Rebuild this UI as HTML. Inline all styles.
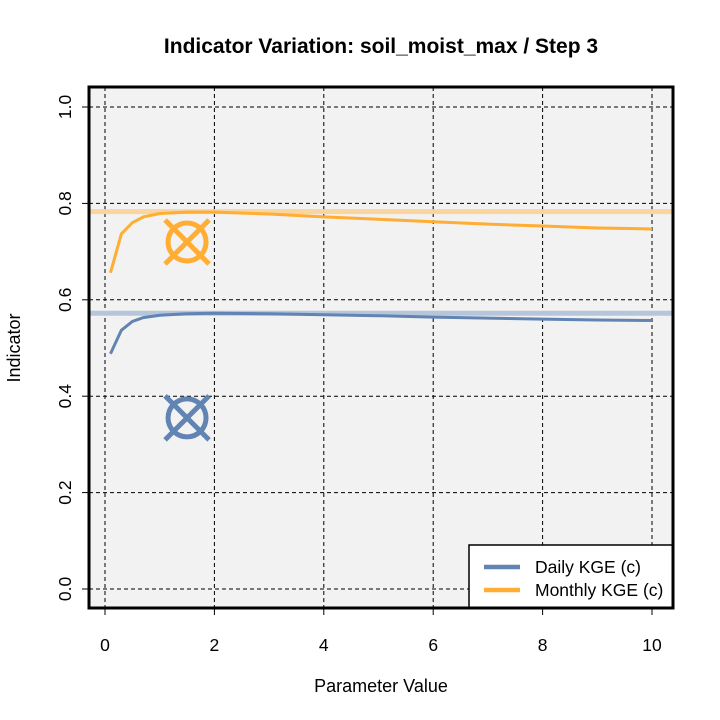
<!DOCTYPE html>
<html><head><meta charset="utf-8"><style>
body{margin:0;background:#fff;}
svg{display:block;font-family:"Liberation Sans",Arial,sans-serif;}
</style></head><body>
<svg id="c" width="720" height="720" viewBox="0 0 720 720"></svg>
<script>
const xs=[0.1,0.3,0.5,0.7,1,1.5,2,3,4,5,6,7,8,9,10];
const monthly=[0.656,0.737,0.760,0.772,0.779,0.782,0.782,0.778,0.772,0.767,0.762,0.757,0.753,0.749,0.747];
const daily=[0.488,0.537,0.555,0.563,0.568,0.571,0.572,0.571,0.569,0.567,0.564,0.562,0.560,0.558,0.557];
const refMonthly=0.783, refDaily=0.572;
const markerX=1.5, markerMonthly=0.72, markerDaily=0.355;
const xTicks=[0,2,4,6,8,10];
const yTicks=[0.0,0.2,0.4,0.6,0.8,1.0];
const NS="http://www.w3.org/2000/svg";
const svg=document.getElementById('c');
const X=v=>105+v*54.7, Y=v=>589-v*482;
function el(t,a,p){const e=document.createElementNS(NS,t);for(const k in a)e.setAttribute(k,a[k]);(p||svg).appendChild(e);return e;}
const BLUE="#6184b3", ORANGE="#ffad33";
let e=el('rect',{x:89,y:87,width:584,height:521,fill:'#f2f2f2'});

xTicks.forEach(t=>{e=el('line',{x1:X(t),x2:X(t),y1:87,y2:608,stroke:'#000','stroke-dasharray':'4,3','stroke-width':1});

e=el('line',{x1:X(t),x2:X(t),y1:608,y2:615,stroke:'#000'});

e=el('text',{x:X(t),y:651,'text-anchor':'middle','font-size':17.5});e.textContent=t;
});
yTicks.forEach(t=>{e=el('line',{x1:89,x2:673,y1:Y(t),y2:Y(t),stroke:'#000','stroke-dasharray':'4,3','stroke-width':1});

e=el('line',{x1:82,x2:89,y1:Y(t),y2:Y(t),stroke:'#000'});

e=el('text',{x:0,y:0,'text-anchor':'middle','font-size':17.5,transform:`translate(71,${Y(t)}) rotate(-90)`});e.textContent=t.toFixed(1);
});
e=el('line',{x1:89,x2:673,y1:Y(refMonthly),y2:Y(refMonthly),stroke:'#fad59e','stroke-width':5});

e=el('line',{x1:89,x2:673,y1:Y(refDaily),y2:Y(refDaily),stroke:'#b5c6da','stroke-width':5});

e=el('polyline',{points:xs.map((x,i)=>X(x)+','+Y(monthly[i])).join(' '),fill:'none',stroke:ORANGE,'stroke-width':3});

e=el('polyline',{points:xs.map((x,i)=>X(x)+','+Y(daily[i])).join(' '),fill:'none',stroke:BLUE,'stroke-width':3});

function marker(v,c,name){const g=el('g',{stroke:c,'stroke-width':5,fill:'none'});

const cx=X(markerX),cy=Y(v);el('circle',{cx,cy,r:19},g);
el('line',{x1:cx-22,y1:cy-22,x2:cx+22,y2:cy+22},g);el('line',{x1:cx-22,y1:cy+22,x2:cx+22,y2:cy-22},g);}
marker(markerMonthly,ORANGE,'monthly-marker');marker(markerDaily,BLUE,'daily-marker');
e=el('rect',{x:89,y:87,width:584,height:521,fill:'none',stroke:'#000','stroke-width':3});

const lg=el('g',{});
el('rect',{x:469,y:545,width:204,height:63,fill:'#fff',stroke:'#000','stroke-width':1.5},lg);
el('line',{x1:484,x2:520,y1:567,y2:567,stroke:BLUE,'stroke-width':4.5},lg);
el('line',{x1:484,x2:520,y1:590,y2:590,stroke:ORANGE,'stroke-width':4.5},lg);
e=el('text',{x:535,y:573,'font-size':17.5},lg);e.textContent='Daily KGE (c)';

e=el('text',{x:535,y:596,'font-size':17.5},lg);e.textContent='Monthly KGE (c)';

el('rect',{x:89,y:87,width:584,height:521,fill:'none',stroke:'#000','stroke-width':3});
e=el('text',{x:381,y:53,'text-anchor':'middle','font-size':21,'font-weight':'bold'});e.textContent='Indicator Variation: soil_moist_max / Step 3';

e=el('text',{x:381,y:692,'text-anchor':'middle','font-size':18});e.textContent='Parameter Value';

e=el('text',{x:0,y:0,'text-anchor':'middle','font-size':18,transform:'translate(20,348) rotate(-90)'});e.textContent='Indicator';

</script>
</body></html>
